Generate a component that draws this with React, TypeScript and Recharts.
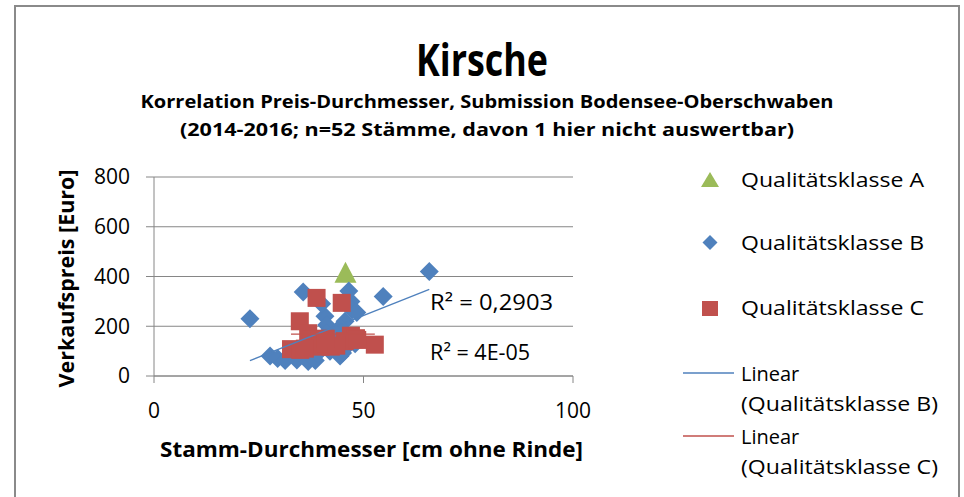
import React from "react";
import {
  CartesianGrid,
  Legend,
  ReferenceDot,
  Scatter,
  ScatterChart,
  XAxis,
  YAxis,
} from "recharts";

// Kirsche – price vs. diameter scatter (Excel-style look)

const GREEN = "#9BBB59";
const BLUE = "#4F81BD";
const RED = "#C0504D";
const GRID = "#868686";
const FONT = "'Open Sans', 'Noto Sans', sans-serif";

const W = 964;
const H = 497;

const X_TICKS = [0, 50, 100];
const Y_TICKS = [0, 200, 400, 600, 800];

// Qualitätsklasse A
const KLASSE_A = [{ x: 45.7, y: 415 }];

// Qualitätsklasse B
const KLASSE_B = [
  { x: 22.9, y: 230 },
  { x: 27.7, y: 80 },
  { x: 29.5, y: 70 },
  { x: 31.3, y: 62 },
  { x: 34.1, y: 64 },
  { x: 36.8, y: 58 },
  { x: 38.5, y: 62 },
  { x: 35.6, y: 338 },
  { x: 40.8, y: 240 },
  { x: 41.2, y: 205 },
  { x: 40.0, y: 290 },
  { x: 41.2, y: 172 },
  { x: 43.0, y: 150 },
  { x: 44.4, y: 80 },
  { x: 45.0, y: 110 },
  { x: 45.6, y: 220 },
  { x: 44.4, y: 195 },
  { x: 46.5, y: 342 },
  { x: 47.0, y: 300 },
  { x: 47.3, y: 265 },
  { x: 48.4, y: 255 },
  { x: 46.0, y: 120 },
  { x: 48.0, y: 130 },
  { x: 54.7, y: 320 },
  { x: 65.7, y: 420 },
  { x: 42.0, y: 100 },
  { x: 39.0, y: 90 },
  { x: 37.0, y: 110 },
  { x: 33.0, y: 95 },
  { x: 43.5, y: 170 },
  { x: 45.0, y: 92 },
  { x: 44.0, y: 130 },
];

// Qualitätsklasse C
const KLASSE_C = [
  { x: 32.7, y: 108 },
  { x: 34.9, y: 105 },
  { x: 34.8, y: 220 },
  { x: 36.8, y: 172 },
  { x: 38.8, y: 314 },
  { x: 37.5, y: 145 },
  { x: 39.8, y: 118 },
  { x: 42.2, y: 118 },
  { x: 44.8, y: 294 },
  { x: 47.0, y: 162 },
  { x: 48.2, y: 152 },
  { x: 52.7, y: 126 },
  { x: 41.0, y: 130 },
  { x: 45.5, y: 140 },
  { x: 36.0, y: 110 },
  { x: 43.5, y: 122 },
  { x: 48.5, y: 145 },
  { x: 41.0, y: 150 },
];

// linear trend lines, endpoints
const TREND_B = [
  { x: 22.9, y: 62 },
  { x: 65.7, y: 348 },
];
const TREND_C = [
  { x: 32.7, y: 168 },
  { x: 52.7, y: 168 },
];

const R2_LABELS = [
  { x: 65.9, y: 295, text: "R² = 0,2903", len: 123 },
  { x: 65.9, y: 94, text: "R² = 4E-05", len: 100 },
];

const Triangle = (p: any) => (
  <path
    d={`M${p.cx},${p.cy - 11}L${p.cx + 11},${p.cy + 10}L${p.cx - 11},${p.cy + 10}Z`}
    fill={GREEN}
  />
);
const Diamond = (p: any) => (
  <path
    d={`M${p.cx},${p.cy - 9.5}L${p.cx + 9.5},${p.cy}L${p.cx},${p.cy + 9.5}L${p.cx - 9.5},${p.cy}Z`}
    fill={BLUE}
  />
);
const Square = (p: any) => (
  <rect x={p.cx - 9} y={p.cy - 9} width={18} height={18} fill={RED} />
);
const Nothing = () => <g />;

const txt = { fontFamily: FONT, fill: "#000" };

const XTitle = (props: any) => {
  const vb = props.viewBox;
  return (
    <text
      x={vb.x + vb.width / 2 + 8}
      y={vb.y + 81}
      textAnchor="middle"
      fontSize={22}
      fontWeight={700}
      textLength={423}
      lengthAdjust="spacingAndGlyphs"
      {...txt}
    >
      Stamm-Durchmesser [cm ohne Rinde]
    </text>
  );
};

const YTitle = (props: any) => {
  const vb = props.viewBox;
  const cx = 74;
  const cy = vb.y + vb.height / 2 + 2;
  return (
    <text
      x={cx}
      y={cy}
      transform={`rotate(-90, ${cx}, ${cy})`}
      textAnchor="middle"
      fontSize={22}
      fontWeight={700}
      textLength={218}
      lengthAdjust="spacingAndGlyphs"
      {...txt}
    >
      Verkaufspreis [Euro]
    </text>
  );
};

const LegendBox = () => (
  <svg width={290} height={330}>
    <path d="M40,12L49,27L31,27Z" fill={GREEN} />
    <text x={71} y={27} fontSize={20} textLength={183} lengthAdjust="spacingAndGlyphs" {...txt}>
      Qualitätsklasse A
    </text>
    <path d="M40,75L47.5,82.5L40,90L32.5,82.5Z" fill={BLUE} />
    <text x={71} y={90} fontSize={20} textLength={183} lengthAdjust="spacingAndGlyphs" {...txt}>
      Qualitätsklasse B
    </text>
    <rect x={32} y={141} width={16} height={15} fill={RED} />
    <text x={71} y={155} fontSize={20} textLength={183} lengthAdjust="spacingAndGlyphs" {...txt}>
      Qualitätsklasse C
    </text>
    <line x1={13} x2={64} y1={213} y2={213} stroke={BLUE} strokeWidth={1.5} />
    <text x={71} y={221} fontSize={20} {...txt}>
      Linear
    </text>
    <text x={71} y={251} fontSize={20} textLength={197} lengthAdjust="spacingAndGlyphs" {...txt}>
      (Qualitätsklasse B)
    </text>
    <line x1={13} x2={64} y1={276} y2={276} stroke={RED} strokeWidth={1.5} />
    <text x={71} y={284} fontSize={20} {...txt}>
      Linear
    </text>
    <text x={71} y={314} fontSize={20} textLength={197} lengthAdjust="spacingAndGlyphs" {...txt}>
      (Qualitätsklasse C)
    </text>
  </svg>
);

export default function App() {
  return (
    <div
      style={{
        position: "absolute",
        left: 0,
        top: 0,
        width: W,
        height: H,
        background: "#fff",
        overflow: "hidden",
      }}
    >
      <ScatterChart
        width={W}
        height={H}
        margin={{ top: 177, right: 391, bottom: 81, left: 94 }}
      >
        <CartesianGrid vertical={false} stroke={GRID} />
        <XAxis
          type="number"
          dataKey="x"
          domain={[0, 100]}
          ticks={X_TICKS}
          height={40}
          stroke={GRID}
          tickSize={7}
          tickMargin={20}
          tick={{ fontSize: 21, ...txt }}
          label={XTitle}
        />
        <YAxis
          type="number"
          dataKey="y"
          domain={[0, 800]}
          ticks={Y_TICKS}
          width={60}
          stroke={GRID}
          tickSize={8}
          tickMargin={16}
          tick={{ fontSize: 21, ...txt }}
          label={YTitle}
        />
        <Scatter name="Qualitätsklasse A" data={KLASSE_A} shape={Triangle} isAnimationActive={false} />
        <Scatter name="Qualitätsklasse B" data={KLASSE_B} shape={Diamond} isAnimationActive={false} />
        <Scatter name="Qualitätsklasse C" data={KLASSE_C} shape={Square} isAnimationActive={false} />
        <Scatter
          name="Linear (Qualitätsklasse B)"
          data={TREND_B}
          line={{ stroke: BLUE, strokeWidth: 1.3 }}
          shape={Nothing}
          isAnimationActive={false}
        />
        <Scatter
          name="Linear (Qualitätsklasse C)"
          data={TREND_C}
          line={{ stroke: RED, strokeWidth: 1.3 }}
          shape={Nothing}
          isAnimationActive={false}
        />
        {R2_LABELS.map((r) => (
          <ReferenceDot
            key={r.text}
            x={r.x}
            y={r.y}
            r={0}
            fill="none"
            stroke="none"
            ifOverflow="visible"
            label={(p: any) => (
              <text
                x={p.viewBox.x}
                y={p.viewBox.y + 7}
                fontSize={21}
                textLength={r.len}
                lengthAdjust="spacingAndGlyphs"
                {...txt}
              >
                {r.text}
              </text>
            )}
          />
        ))}
        {/* vertical + center + middle: the legend takes no room from the plot */}
        <Legend
          layout="vertical"
          align="center"
          verticalAlign="middle"
          content={LegendBox}
          wrapperStyle={{ position: "absolute", left: 670, top: 160, width: 290, height: 330 }}
        />
      </ScatterChart>
      <svg
        width={W}
        height={H}
        style={{ position: "absolute", left: 0, top: 0, pointerEvents: "none" }}
      >
        <rect x={15} y={6} width={944} height={520} fill="none" stroke="#8a8a8a" strokeWidth={2} />
        <text x={482} y={76} textAnchor="middle" fontSize={44} fontWeight={700} textLength={132} lengthAdjust="spacingAndGlyphs" {...txt}>
          Kirsche
        </text>
        <text x={487} y={108} textAnchor="middle" fontSize={18} fontWeight={700} textLength={693} lengthAdjust="spacingAndGlyphs" {...txt}>
          Korrelation Preis-Durchmesser, Submission Bodensee-Oberschwaben
        </text>
        <text x={487} y={136} textAnchor="middle" fontSize={18} fontWeight={700} textLength={614} lengthAdjust="spacingAndGlyphs" {...txt}>
          (2014-2016; n=52 Stämme, davon 1 hier nicht auswertbar)
        </text>
      </svg>
    </div>
  );
}
